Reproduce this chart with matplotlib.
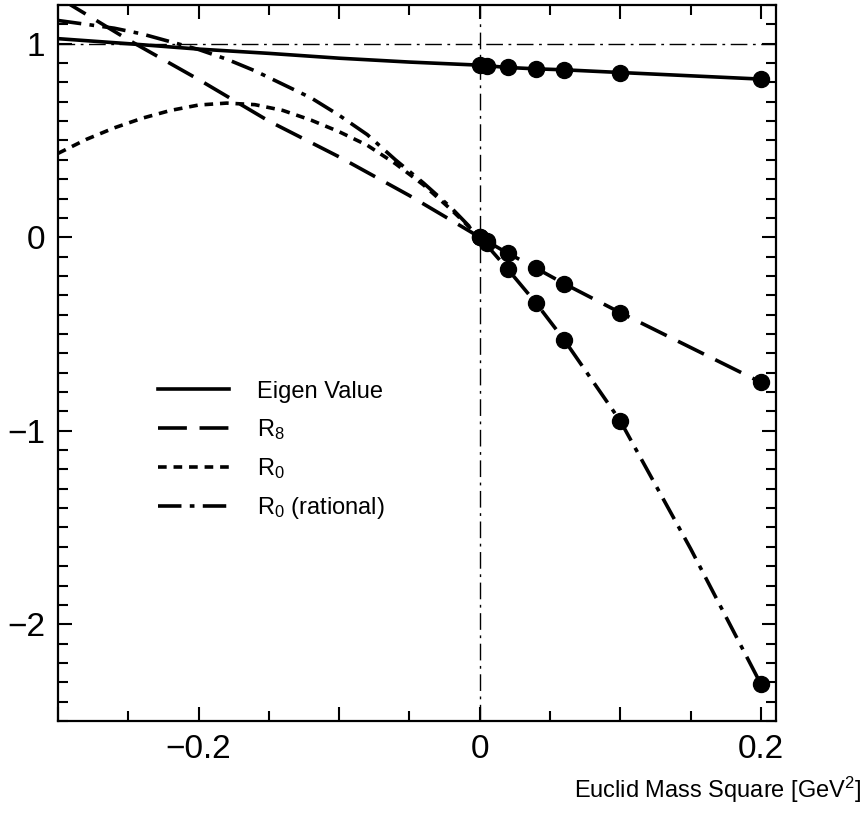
import numpy as np
import matplotlib
matplotlib.use('Agg')
from matplotlib import pyplot as plt
from matplotlib.ticker import MultipleLocator, FixedLocator, FixedFormatter

plt.rcParams['font.family'] = ['Liberation Sans', 'DejaVu Sans']
plt.rcParams['mathtext.fontset'] = 'custom'
plt.rcParams['mathtext.rm'] = 'Liberation Sans'
plt.rcParams['mathtext.it'] = 'Liberation Sans'

# lattice points
pts_x = [0.0, 0.005, 0.02, 0.04, 0.06, 0.1, 0.2]
eig_pts = [0.888, 0.886, 0.877, 0.870, 0.865, 0.851, 0.817]
r8_pts = [0.0, -0.02, -0.083, -0.16, -0.24, -0.39, -0.75]
r0rat_pts = [0.0, -0.03, -0.166, -0.34, -0.53, -0.95, -2.31]

# curves
eig_cx = [-0.30, -0.25, -0.20, -0.15, -0.10, -0.05, 0.0, 0.02, 0.04, 0.06, 0.10, 0.15, 0.20]
eig_cy = [1.026, 1.000, 0.972, 0.950, 0.925, 0.905, 0.889, 0.877, 0.870, 0.865, 0.851, 0.834, 0.817]

r8_cx = [-0.30, -0.25, -0.20, -0.15, -0.10, -0.05, 0.0, 0.02, 0.04, 0.06, 0.10, 0.15, 0.20]
r8_cy = [1.24, 1.02, 0.815, 0.60, 0.415, 0.215, 0.0, -0.083, -0.16, -0.24, -0.39, -0.57, -0.75]

r0_cx = [-0.30, -0.28, -0.26, -0.24, -0.22, -0.20, -0.18, -0.16, -0.14, -0.12, -0.10, -0.08, -0.06, -0.04, -0.02, 0.0]
r0_cy = [0.433, 0.505, 0.565, 0.615, 0.655, 0.683, 0.693, 0.685, 0.655, 0.605, 0.545, 0.475, 0.38, 0.27, 0.14, 0.0]

r0rat_cx = [-0.30, -0.26, -0.24, -0.22, -0.20, -0.18, -0.16, -0.14, -0.12, -0.10, -0.08, -0.06, -0.04, -0.02, 0.0,
            0.02, 0.04, 0.06, 0.10, 0.125, 0.15, 0.175, 0.20]
r0rat_cy = [1.12, 1.08, 1.05, 1.01, 0.97, 0.92, 0.86, 0.79, 0.72, 0.63, 0.53, 0.40, 0.28, 0.15, 0.0,
            -0.166, -0.34, -0.53, -0.95, -1.28, -1.61, -1.96, -2.31]

fig = plt.figure(figsize=(8.68, 8.16), dpi=100)
ax = fig.add_axes([0.0668, 0.1164, 0.8272, 0.8775])

# reference lines
ax.axhline(1.0, color='black', lw=1.0, dashes=(12, 4, 2, 4))
ax.axvline(0.0, color='black', lw=1.0, dashes=(12, 4, 2, 4))

lw = 2.6
ax.plot(eig_cx, eig_cy, color='black', lw=lw, label='Eigen Value')
ax.plot(r8_cx, r8_cy, color='black', lw=lw, dashes=(8, 3.5), label='$\\mathregular{R_8}$')
ax.plot(r0_cx, r0_cy, color='black', lw=lw, dashes=(2.4, 1.9), label='$\\mathregular{R_0}$')
ax.plot(r0rat_cx, r0rat_cy, color='black', lw=lw, dashes=(6.5, 2.3, 1.3, 2.3),
        label='$\\mathregular{R_0}$ (rational)')

for ys in (eig_pts, r8_pts, r0rat_pts):
    ax.plot(pts_x, ys, 'o', color='black', ms=11.5, ls='none', zorder=5)

ax.set_xlim(-0.3, 0.2107)
ax.set_ylim(-2.5, 1.2)

xt = [-0.3, -0.2, -0.1, 0.0, 0.1, 0.2]
xt_labels = ['', '\u22120.2', '', '0', '', '0.2']
ax.xaxis.set_major_locator(FixedLocator(xt))
ax.xaxis.set_major_formatter(FixedFormatter(xt_labels))
ax.xaxis.set_minor_locator(MultipleLocator(0.05))

yt = [-2, -1, 0, 1]
yt_labels = ['\u22122', '\u22121', '0', '1']
ax.yaxis.set_major_locator(FixedLocator(yt))
ax.yaxis.set_major_formatter(FixedFormatter(yt_labels))
ax.yaxis.set_minor_locator(MultipleLocator(0.1))

ax.tick_params(which='both', direction='in', top=True, right=True, width=1.5)
ax.tick_params(which='major', length=10, labelsize=24, pad=9)
ax.tick_params(which='minor', length=7)
for s in ax.spines.values():
    s.set_linewidth(1.6)

leg = ax.legend(loc='upper left', bbox_to_anchor=(0.11, 0.505), frameon=False, fontsize=17,
                handlelength=3.0, handletextpad=1.2, labelspacing=0.6)

fig.text(0.993, 1 - 790 / 816, 'Euclid Mass Square [GeV$^\\mathregular{2}$]', ha='right', va='center',
         fontsize=17)

fig.savefig('out.png', dpi=100)
